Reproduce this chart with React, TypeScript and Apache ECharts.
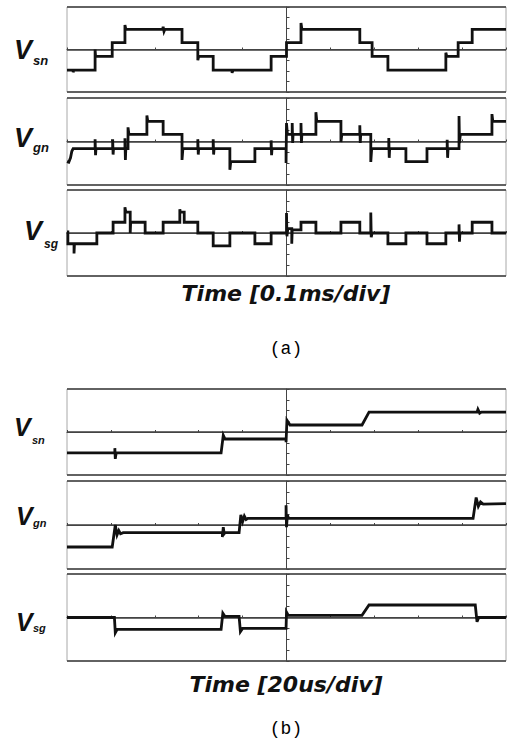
import React, { useEffect, useRef } from 'react';
import * as echarts from 'echarts';

type P = [number, number][];

// time in divisions (-5..5), voltage in divisions (-4..4)
const vsnA: P = [
  [-5, -1.95], [-4.86, -1.95], [-4.86, -2.15], [-4.85, -1.95],
  [-4.36, -1.95], [-4.36, 0.0], [-4.35, -0.65],
  [-3.97, -0.65], [-3.97, 0.65],
  [-3.68, 0.65], [-3.68, 2.3], [-3.66, 1.9],
  [-2.82, 1.9], [-2.81, 2.15], [-2.79, 1.7], [-2.77, 1.9],
  [-2.38, 1.9], [-2.38, 0.65],
  [-2.02, 0.65], [-2.02, -1.0], [-2.0, -0.65],
  [-1.67, -0.65], [-1.67, -1.95],
  [-1.24, -1.95], [-1.24, -2.2], [-1.22, -1.95],
  [-0.35, -1.95], [-0.35, -0.65],
  [0, -0.65], [0, 0.65],
  [0.33, 0.65], [0.33, 2.5], [0.35, 1.9],
  [1.67, 1.9], [1.67, 0.65],
  [1.95, 0.65], [1.95, -0.65],
  [2.31, -0.65], [2.31, -1.95],
  [3.63, -1.95], [3.63, -0.3], [3.65, -0.65],
  [3.91, -0.65], [3.91, 0.65],
  [4.23, 0.65], [4.23, 1.9],
  [5, 1.9],
];

const vgnA: P = [
  [-5, -1.85], [-4.96, -1.9], [-4.92, -1.5], [-4.89, -0.9], [-4.86, -0.65],
  [-4.36, -0.65], [-4.36, 0.2], [-4.35, -1.25], [-4.34, -0.65],
  [-3.96, -0.65], [-3.96, 0.2], [-3.95, -1.2], [-3.94, -0.65],
  [-3.68, -0.65], [-3.68, 0.3], [-3.67, -1.7], [-3.66, -0.65],
  [-3.61, -0.65], [-3.61, 1.3], [-3.59, 0.65],
  [-3.18, 0.65], [-3.18, 2.4], [-3.16, 1.85],
  [-2.81, 1.85], [-2.81, 0.65],
  [-2.38, 0.65], [-2.38, -1.7], [-2.36, -0.65],
  [-2.02, -0.65], [-2.02, 0.2], [-2.01, -1.2], [-2.0, -0.65],
  [-1.67, -0.65], [-1.67, 0.2], [-1.66, -1.2], [-1.65, -0.65],
  [-1.29, -0.65], [-1.29, -2.6], [-1.27, -1.85],
  [-0.72, -1.85], [-0.72, -0.65],
  [-0.35, -0.65], [-0.35, 0.1], [-0.34, -1.25], [-0.33, -0.65],
  [-0.01, -0.65], [-0.01, -1.97], [0.0, 1.7], [0.02, 0.65],
  [0.13, 0.65], [0.13, 1.7], [0.14, -0.14], [0.15, 0.65],
  [0.33, 0.65], [0.33, 1.7], [0.34, -0.14], [0.35, 0.65],
  [0.67, 0.65], [0.67, 2.7], [0.69, 1.85],
  [1.24, 1.85], [1.24, -0.05], [1.26, 0.65],
  [1.67, 0.65], [1.67, 1.5], [1.68, -0.14], [1.69, 0.65],
  [1.92, 0.65], [1.92, -1.88], [1.94, -0.65],
  [2.33, -0.65], [2.33, 0.32], [2.34, -1.5], [2.35, -0.65],
  [2.72, -0.65], [2.72, -1.85],
  [3.2, -1.85], [3.2, -0.65],
  [3.66, -0.65], [3.66, 0.15], [3.67, -1.5], [3.68, -0.65],
  [3.93, -0.65], [3.93, 2.34], [3.94, -0.14], [3.96, 0.65],
  [4.68, 0.65], [4.68, 2.52], [4.7, 1.85],
  [5, 1.85],
];

const vsgA: P = [
  [-5, 0.1], [-4.98, 0.1], [-4.98, -1.0], [-4.84, -1.0], [-4.84, -1.9], [-4.83, -1.0],
  [-4.32, -1.0], [-4.32, 0],
  [-3.95, 0], [-3.95, 1.0],
  [-3.68, 1.0], [-3.68, 2.4], [-3.66, 1.95],
  [-3.56, 1.95], [-3.56, 0], [-3.55, 1.0],
  [-3.22, 1.0], [-3.22, 0],
  [-2.81, 0], [-2.81, 1.0],
  [-2.43, 1.0], [-2.43, 2.2], [-2.42, 1.95], [-2.33, 1.95], [-2.33, 1.0],
  [-2.02, 1.0], [-2.02, 0],
  [-1.67, 0], [-1.67, -1.2],
  [-1.29, -1.2], [-1.29, 0],
  [-0.72, 0], [-0.72, -1.0],
  [-0.35, -1.0], [-0.35, 0],
  [0, 0], [0, 1.86], [0.01, -0.3], [0.03, 0.4],
  [0.12, 0.4], [0.12, -1.0], [0.13, 0.3],
  [0.33, 0.3], [0.33, 1.0],
  [0.67, 1.0], [0.67, 0],
  [1.24, 0], [1.24, 1.0],
  [1.67, 1.0], [1.67, 0],
  [1.92, 0], [1.92, 1.9], [1.93, -0.4], [1.95, 0],
  [2.31, 0], [2.31, -1.0],
  [2.72, -1.0], [2.72, 0],
  [3.2, 0], [3.2, -1.0],
  [3.63, -1.0], [3.63, 0],
  [3.93, 0], [3.93, 0.8], [3.94, -0.8], [3.95, 0],
  [4.23, 0], [4.23, 1.0],
  [4.68, 1.0], [4.68, 0],
  [5, 0],
];

const vsnB: P = [
  [-5, -1.95],
  [-3.91, -1.95], [-3.91, -1.5], [-3.9, -2.5], [-3.88, -1.95],
  [-1.49, -1.95], [-1.44, -0.3], [-1.4, -0.65],
  [-0.01, -0.65], [-0.01, -0.95], [0.01, 1.1], [0.08, 0.65],
  [1.72, 0.65], [1.88, 1.85],
  [4.34, 1.85], [4.36, 2.1], [4.4, 1.75], [4.44, 1.85],
  [5, 1.85],
];

const vgnB: P = [
  [-5, -2.0],
  [-3.97, -2.0], [-3.9, 0.0], [-3.86, -0.9], [-3.82, -0.5], [-3.78, -0.8], [-3.72, -0.7],
  [-1.46, -0.7], [-1.46, -1.1], [-1.44, -0.2], [-1.42, -0.8], [-1.4, -0.7],
  [-1.08, -0.7], [-1.04, 0.92], [-1.0, 0.3], [-0.96, 0.8], [-0.92, 0.5], [-0.88, 0.6],
  [-0.01, 0.6], [-0.01, 1.8], [0.0, -0.2], [0.02, 0.9], [0.05, 0.6],
  [4.25, 0.6], [4.32, 2.5], [4.37, 1.7], [4.42, 2.1], [4.48, 1.9],
  [5, 1.95],
];

const vsgB: P = [
  [-5, 0],
  [-3.92, 0], [-3.9, -1.4], [-3.86, -1.1],
  [-1.49, -1.1], [-1.45, 0.4], [-1.4, 0.1],
  [-1.08, 0.1], [-1.05, -1.3], [-1.0, -1.0],
  [-0.01, -1.0], [0.0, 0.5], [0.04, 0.2],
  [1.72, 0.2], [1.88, 1.15],
  [4.3, 1.15], [4.34, -0.4], [4.38, 0],
  [5, 0],
];

const subscripts = ['sn', 'gn', 'sg', 'sn', 'gn', 'sg'];
const xTitles = ['Time [0.1ms/div]', 'Time [20us/div]'];
const captions = ['(a)', '(b)'];

export default function App() {
  const ref = useRef<HTMLDivElement>(null);
  useEffect(() => {
    if (!ref.current) return;
    const chart = echarts.init(ref.current, null, { renderer: 'svg' });
    const panels = [
      { top: 7, height: 85, data: vsnA },
      { top: 98, height: 87, data: vgnA },
      { top: 190, height: 86, data: vsgA },
      { top: 389, height: 86, data: vsnB },
      { top: 481, height: 88, data: vgnB },
      { top: 574, height: 87, data: vsgB },
    ];
    // label positions: [vx, vy, sx, sy, vSize, sSize]
    const labelPos = [
      [14, 50, 33, 60, 27, 13],
      [14, 138, 33, 147, 27, 13],
      [24, 231, 44, 244, 27, 12],
      [14, 427, 32, 440, 25, 11],
      [16, 516, 33, 523, 25, 11],
      [16, 622, 33, 628, 25, 11],
    ];
    const graphic: any[] = [];
    labelPos.forEach((p, i) => {
      graphic.push({
        type: 'text', x: p[0], y: p[1],
        style: { text: 'V', fill: '#111', fontFamily: 'Liberation Sans', fontWeight: 'bold', fontStyle: 'italic', fontSize: p[4], verticalAlign: 'middle', align: 'left' },
      });
      graphic.push({
        type: 'text', x: p[2], y: p[3],
        style: { text: subscripts[i], fill: '#111', fontFamily: 'Liberation Sans', fontWeight: 'bold', fontStyle: 'italic', fontSize: p[5], verticalAlign: 'middle', align: 'left' },
      });
    });
    const titleY = [293, 684];
    const capY = [349, 729];
    [0, 1].forEach((k) => {
      graphic.push({
        type: 'text', x: 286, y: titleY[k],
        style: { text: xTitles[k], fill: '#111', fontFamily: 'DejaVu Sans', fontWeight: 'bold', fontStyle: 'italic', fontSize: 22, verticalAlign: 'middle', align: 'center' },
      });
      graphic.push({
        type: 'text', x: 286, y: capY[k],
        style: { text: captions[k], fill: '#000', fontFamily: 'Liberation Mono', fontSize: 18, verticalAlign: 'middle', align: 'center' },
      });
    });

    const option: any = {
      animation: false,
      backgroundColor: '#fff',
      grid: panels.map((p) => ({
        left: 67, width: 439, top: p.top, height: p.height,
        show: true, borderColor: '#a8a8a8', borderWidth: 1, backgroundColor: 'transparent',
      })),
      xAxis: panels.map((_, i) => ({
        gridIndex: i, type: 'value', min: -5, max: 5, interval: 1,
        axisLine: { show: true, onZero: true, lineStyle: { color: '#444', width: 1 } },
        axisTick: { show: true, inside: true, length: 2, lineStyle: { color: '#444' } },
        axisLabel: { show: false },
        splitLine: { show: false },
      })),
      yAxis: panels.map((_, i) => ({
        gridIndex: i, type: 'value', min: -4, max: 4, interval: 4,
        axisLine: { show: true, onZero: true, lineStyle: { color: '#444', width: 1 } },
        axisTick: { show: true, inside: true, length: 3, lineStyle: { color: '#444' } },
        minorTick: { show: true, splitNumber: 4, length: 3, lineStyle: { color: '#444' } },
        axisLabel: { show: false },
        splitLine: { show: true, lineStyle: { color: '#3c3c3c', width: 1.5 } },
      })),
      series: panels.map((p, i) => ({
        type: 'line', xAxisIndex: i, yAxisIndex: i, data: p.data,
        showSymbol: false, symbol: 'none', silent: true, z: 5,
        lineStyle: { color: '#111', width: 2.8, join: 'miter' },
      })),
      graphic,
    };
    chart.setOption(option);
    return () => chart.dispose();
  }, []);
  return (
    <div
      ref={ref}
      style={{ position: 'fixed', left: 0, top: 0, width: 508, height: 743, background: '#fff' }}
    />
  );
}
